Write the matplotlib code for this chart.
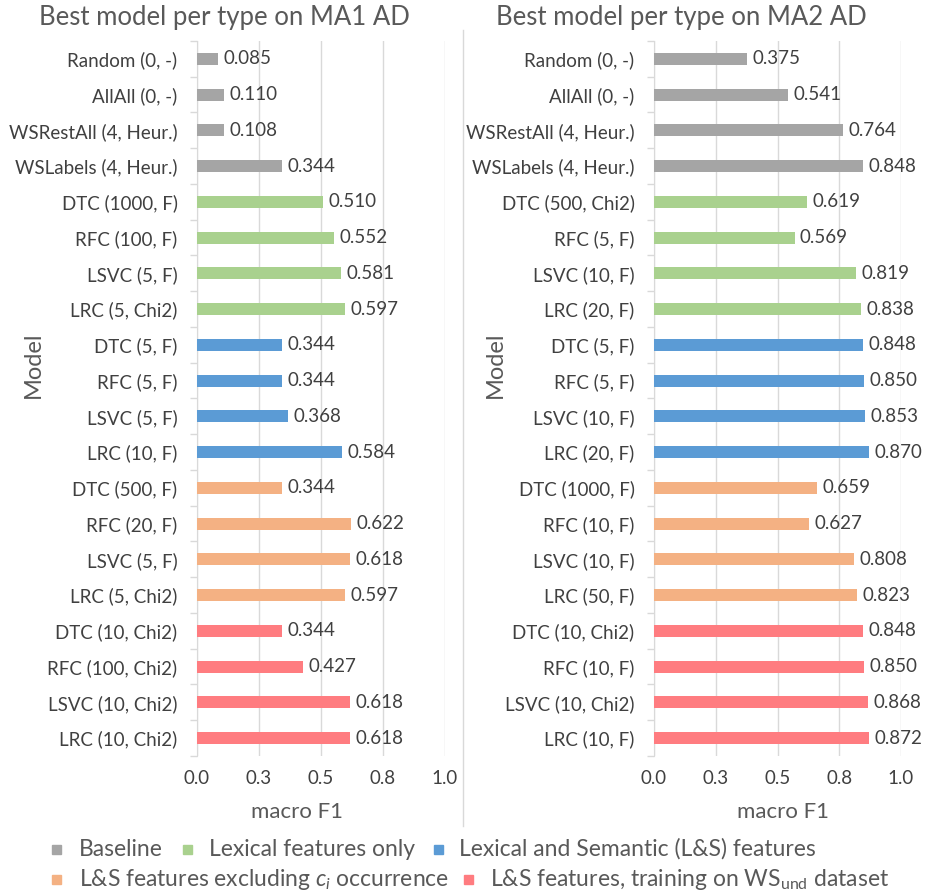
import matplotlib
matplotlib.use("Agg")
import matplotlib.pyplot as plt
from matplotlib.patches import Rectangle
from matplotlib.lines import Line2D
import numpy as np

plt.rcParams['font.family'] = ['Lato', 'DejaVu Sans']
plt.rcParams['mathtext.fontset'] = 'custom'
plt.rcParams['mathtext.it'] = 'Lato:italic'
plt.rcParams['mathtext.rm'] = 'Lato'

# Data
groups = ["Baseline", "Lexical features only", "Lexical and Semantic (L&S) features",
          "L&S features excluding $c_i$ occurrence", "L&S features, training on WS$_{\\mathrm{und}}$ dataset"]
group_colors = ["#A5A5A5", "#A9D18E", "#5B9BD5", "#F4B183", "#FF7C80"]
group_of_row = [0]*4 + [1]*4 + [2]*4 + [3]*4 + [4]*4

ma1_labels = ["Random (0, -)", "AllAll (0, -)", "WSRestAll (4, Heur.)", "WSLabels (4, Heur.)",
              "DTC (1000, F)", "RFC (100, F)", "LSVC (5, F)", "LRC (5, Chi2)",
              "DTC (5, F)", "RFC (5, F)", "LSVC (5, F)", "LRC (10, F)",
              "DTC (500, F)", "RFC (20, F)", "LSVC (5, F)", "LRC (5, Chi2)",
              "DTC (10, Chi2)", "RFC (100, Chi2)", "LSVC (10, Chi2)", "LRC (10, Chi2)"]
ma1_values = [0.085, 0.110, 0.108, 0.344,
              0.510, 0.552, 0.581, 0.597,
              0.344, 0.344, 0.368, 0.584,
              0.344, 0.622, 0.618, 0.597,
              0.344, 0.427, 0.618, 0.618]

ma2_labels = ["Random (0, -)", "AllAll (0, -)", "WSRestAll (4, Heur.)", "WSLabels (4, Heur.)",
              "DTC (500, Chi2)", "RFC (5, F)", "LSVC (10, F)", "LRC (20, F)",
              "DTC (5, F)", "RFC (5, F)", "LSVC (10, F)", "LRC (20, F)",
              "DTC (1000, F)", "RFC (10, F)", "LSVC (10, F)", "LRC (50, F)",
              "DTC (10, Chi2)", "RFC (10, F)", "LSVC (10, Chi2)", "LRC (10, F)"]
ma2_values = [0.375, 0.541, 0.764, 0.848,
              0.619, 0.569, 0.819, 0.838,
              0.848, 0.850, 0.853, 0.870,
              0.659, 0.627, 0.808, 0.823,
              0.848, 0.850, 0.868, 0.872]

xticks = [0.0, 0.25, 0.5, 0.75, 1.0]
xtick_labels = ["0.0", "0.3", "0.5", "0.8", "1.0"]

TXT = "#404040"
TTL = "#595959"
GRID = "#D9D9D9"

W, H = 925, 894
fig = plt.figure(figsize=(W/100, H/100), dpi=100)


def fx(px):
    return px / W


def fy(py):
    return 1 - py / H


def panel(ax, labels, values):
    n = len(values)
    y = np.arange(n)
    colors = [group_colors[g] for g in group_of_row]
    ax.barh(y, values, height=0.33, color=colors, zorder=3)
    for yi, v in zip(y, values):
        ax.text(v + 0.022, yi, "%.3f" % v, va="center", ha="left",
                fontsize=13.5, color=TXT, zorder=4)
    ax.set_ylim(n - 0.5, -0.5)
    ax.set_xlim(0, 1.0)
    ax.set_yticks(y)
    ax.set_yticklabels(labels, fontsize=13.5, color=TXT)
    ax.set_yticks(np.arange(n + 1) - 0.5, minor=True)
    ax.tick_params(axis="y", which="major", length=0, pad=14)
    ax.tick_params(axis="y", which="minor", length=5, color=GRID, width=1)
    ax.set_xticks(xticks)
    ax.set_xticklabels(xtick_labels, fontsize=13.5, color=TXT)
    ax.tick_params(axis="x", length=0, pad=10)
    ax.grid(axis="x", color=GRID, linewidth=1, zorder=0)
    for s in ["top", "right", "bottom"]:
        ax.spines[s].set_visible(False)
    ax.spines["left"].set_color(GRID)


ax1 = fig.add_axes([fx(197), fy(756), fx(445 - 197), fy(41) - fy(756)])
panel(ax1, ma1_labels, ma1_values)
ax2 = fig.add_axes([fx(654), fy(756), fx(901 - 654), fy(41) - fy(756)])
panel(ax2, ma2_labels, ma2_values)

# titles and axis titles
fig.text(fx(224), fy(18), "Best model per type on MA1 AD", ha="center", va="center",
         fontsize=18.5, color=TTL)
fig.text(fx(681), fy(18), "Best model per type on MA2 AD", ha="center", va="center",
         fontsize=18.5, color=TTL)
for xc in (297, 783):
    fig.text(fx(xc), fy(812), "macro F1", ha="center", va="center", fontsize=16, color=TTL)
for xc in (33, 495):
    fig.text(fx(xc), fy(365), "Model", ha="center", va="center", rotation=90,
             fontsize=17, color=TTL)

# separator line between the two charts
fig.add_artist(Line2D([fx(463), fx(463)], [fy(30), fy(826)], color=GRID, linewidth=1))

# legend
leg_pos = [(56, 849, 79), (187, 849, 209), (438, 849, 459), (56, 879, 79), (468, 879, 490)]
for (px, py, tx), name, col in zip(leg_pos, groups, group_colors):
    fig.add_artist(Rectangle((fx(px - 4.5), fy(py + 4.5)), fx(9), fy(py - 4.5) - fy(py + 4.5),
                             color=col, transform=fig.transFigure))
    fig.text(fx(tx), fy(py), name, ha="left", va="center", fontsize=16.5, color=TTL)

fig.savefig("out.png", dpi=100)
